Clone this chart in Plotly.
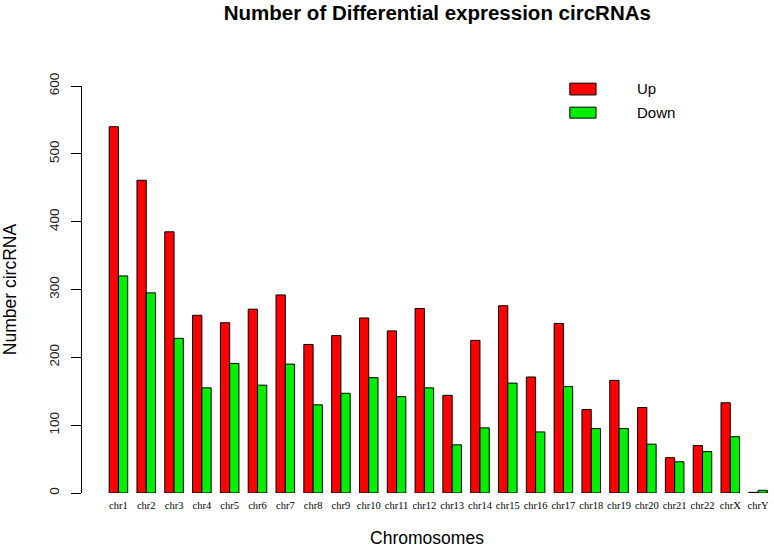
import plotly.graph_objects as go

chromosomes = ["chr1", "chr2", "chr3", "chr4", "chr5", "chr6", "chr7", "chr8", "chr9", "chr10",
               "chr11", "chr12", "chr13", "chr14", "chr15", "chr16", "chr17", "chr18", "chr19",
               "chr20", "chr21", "chr22", "chrX", "chrY"]
up_counts = [540, 461, 385, 262, 251, 271, 292, 219, 232, 258, 239, 272, 144, 225, 276, 171,
             250, 123, 166, 126, 52, 70, 133, 1]
down_counts = [320, 295, 228, 155, 191, 159, 190, 130, 147, 170, 142, 155, 71, 96, 162, 90,
               157, 95, 95, 72, 46, 61, 83, 4]
series_names = ["Up", "Down"]
series_colors = ["#ff0000", "#00ee00"]
y_ticks = [0, 100, 200, 300, 400, 500, 600]

fig = go.Figure()
for name, vals, col in zip(series_names, [up_counts, down_counts], series_colors):
    fig.add_trace(go.Bar(
        x=chromosomes, y=vals, name=name,
        marker=dict(color=col, line=dict(color="#000000", width=1)),
        showlegend=False,
    ))

sans = "Liberation Sans, Arial, sans-serif"
serif = "Liberation Serif, Times New Roman, serif"

fig.update_layout(
    width=774, height=549,
    margin=dict(l=82, r=2, t=86, b=56, autoexpand=False),
    paper_bgcolor="white", plot_bgcolor="white",
    barmode="group", bargap=0.333, bargroupgap=0,
    title=dict(text="<b>Number of Differential expression circRNAs</b>",
               font=dict(family=sans, size=20.5, color="black"),
               x=0.565, xref="container", xanchor="center",
               y=1 - 13 / 549, yref="container", yanchor="middle"),
    xaxis=dict(
        type="category", categoryorder="array", categoryarray=chromosomes,
        range=[-1.31, 23.5], showline=False, showgrid=False, ticks="",
        tickfont=dict(family=serif, size=10.5, color="black"),
        ticklabelstandoff=4,
        title=dict(text="Chromosomes", font=dict(family=sans, size=17.5, color="black"), standoff=22),
    ),
    yaxis=dict(
        range=[0, 600], tickvals=y_ticks, showgrid=False, zeroline=False,
        showline=True, linecolor="black", linewidth=1,
        ticks="outside", ticklen=10, tickcolor="black",
        tickangle=-90,
        tickfont=dict(family=sans, size=13.5, color="#222222"),
        ticklabelstandoff=7,
        title=dict(text="Number circRNA", font=dict(family=sans, size=17.5, color="black"), standoff=30),
    ),
)

# legend drawn as boxes + labels
leg_y = [(1.007, 0.978), (0.948, 0.921)]
leg_text_y = [0.993, 0.934]
for name, col, (y1, y0), ty in zip(series_names, series_colors, leg_y, leg_text_y):
    fig.add_shape(type="rect", xref="paper", yref="paper", x0=0.707, x1=0.745, y0=y0, y1=y1,
                  fillcolor=col, line=dict(color="black", width=1))
    fig.add_annotation(xref="paper", yref="paper", x=0.801, y=ty, text=name, showarrow=False,
                       xanchor="left", yanchor="middle",
                       font=dict(family=sans, size=15, color="black"))

fig.write_html("out.html", config={"displayModeBar": False},
               post_script="document.body.style.margin='0';")
